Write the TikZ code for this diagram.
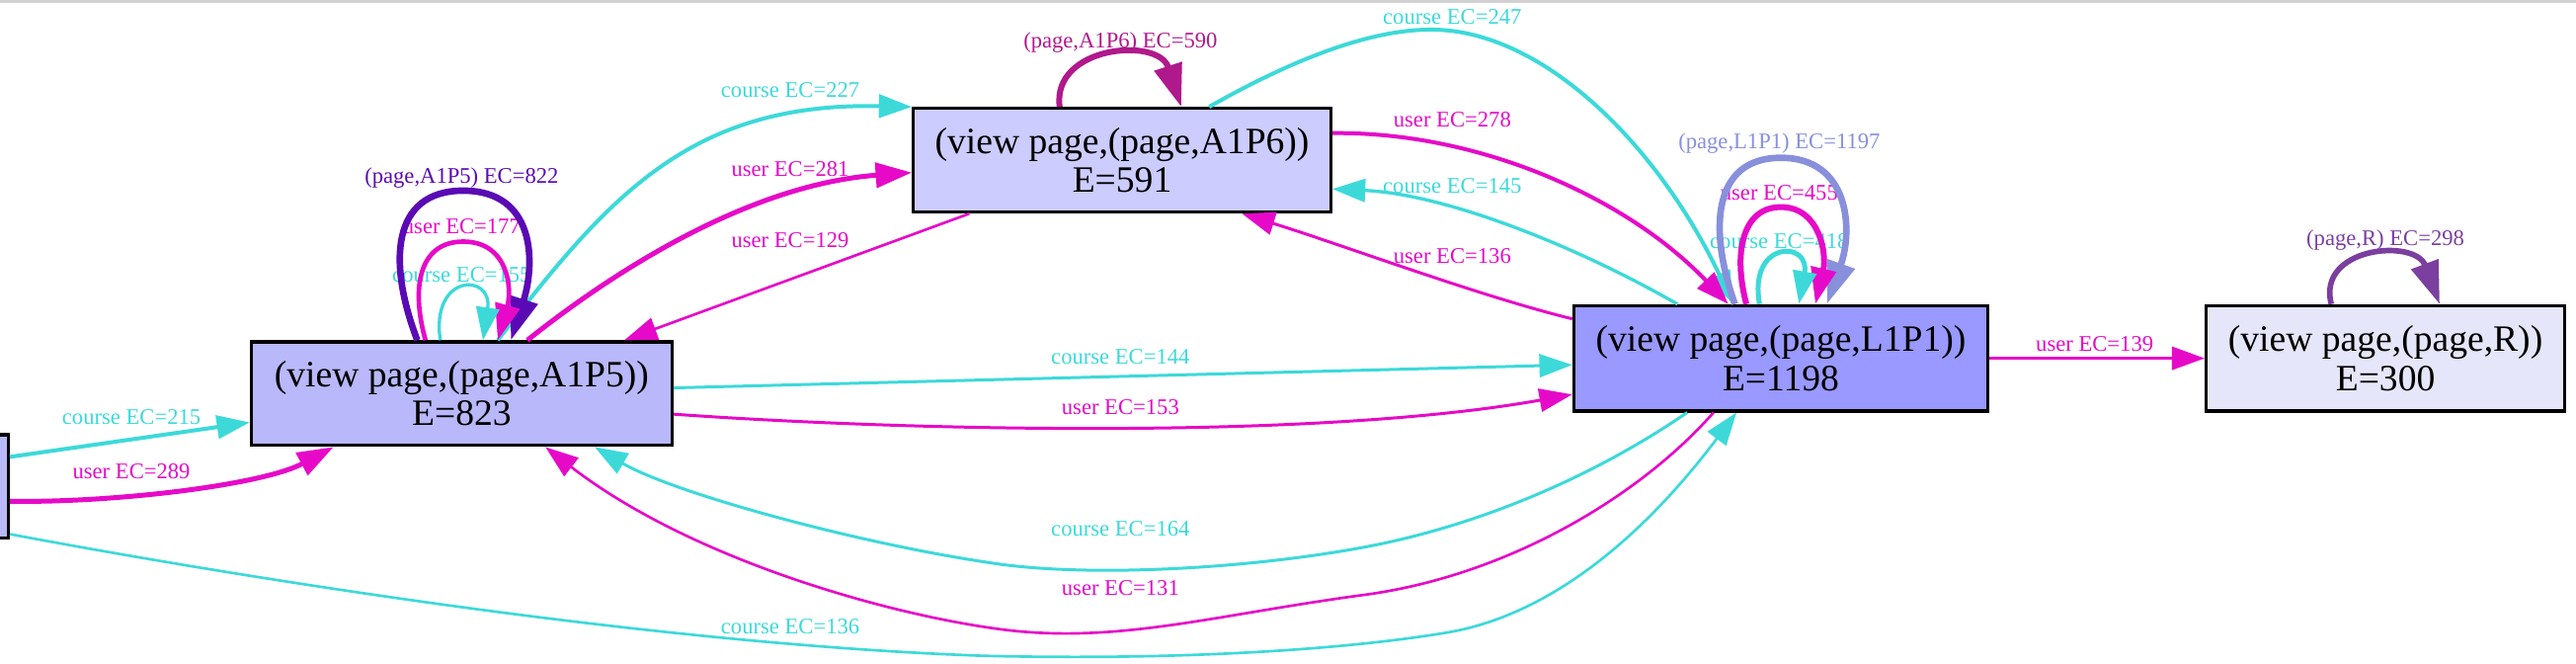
\documentclass[tikz,border=0pt]{standalone}
\usepackage{fontspec}
\setmainfont{Liberation Serif}
\usetikzlibrary{arrows.meta,calc}
\definecolor{ccourse}{HTML}{3DD9D9}
\definecolor{cuser}{HTML}{E60AC8}
\definecolor{cpA5}{HTML}{5A0AB4}
\definecolor{cpA6}{HTML}{B0198C}
\definecolor{cpL1}{HTML}{8890DC}
\definecolor{cpR}{HTML}{7B3F9F}
\definecolor{fA5}{HTML}{B8B8FA}
\definecolor{fA6}{HTML}{CCCCFF}
\definecolor{fL1}{HTML}{9999FF}
\definecolor{fR}{HTML}{E6E6FA}
\begin{document}
\begin{tikzpicture}[x=0.5pt,y=-0.5pt,
  state/.style={draw=black, line width=1pt, align=center, inner sep=0pt,
    font=\fontsize{11.3}{11.8}\selectfont, minimum height=31.5pt},
  elabel/.style={font=\fontsize{6.8}{7}\selectfont, inner sep=0pt},
  tipthin/.style={-{Triangle[length=10pt,width=7pt]}},
  tipmid/.style={-{Triangle[length=11pt,width=7.5pt]}},
  tipthick/.style={-{Triangle[length=13pt,width=8.5pt]}},
  course/.style={draw=ccourse, tipthin},
  user/.style={draw=cuser, tipthin},
]
\clip (0,0) rectangle (1568,404);
\draw[black!18, line width=1pt] (0,0.5) -- (1568,0.5);

% nodes
\node[state, fill=fA5, minimum width=29pt] (l0) at (-24,296) {};
\node[state, fill=fA5, minimum width=128pt] (a5) at (281,239.5) {(view page,(page,A1P5))\\E=823};
\node[state, fill=fA6, minimum width=127pt] (a6) at (683,97.5) {(view page,(page,A1P6))\\E=591};
\node[state, fill=fL1, minimum width=126pt, minimum height=32pt] (l1) at (1084,218) {(view page,(page,L1P1))\\E=1198};
\node[state, fill=fR, minimum width=109pt, minimum height=32pt] (r) at (1452,218) {(view page,(page,R))\\E=300};

% labels
\node[elabel, text=ccourse] (t1) at (80,253.5) {course EC=215};
\node[elabel, text=cuser] (t2) at (80,287) {user EC=289};
\node[elabel, text=ccourse] (t3) at (481,381) {course EC=136};
\node[elabel, text=ccourse] (t4) at (481,55) {course EC=227};
\node[elabel, text=cuser] (t5) at (481,103) {user EC=281};
\node[elabel, text=cuser] (t6) at (481,146) {user EC=129};
\node[elabel, text=cpA6] (t7) at (682,26) {(page,A1P6) EC=590};
\node[elabel, text=ccourse] (t8) at (884,10) {course EC=247};
\node[elabel, text=cuser] (t9) at (884,73) {user EC=278};
\node[elabel, text=ccourse] (t10) at (884,113) {course EC=145};
\node[elabel, text=cuser] (t11) at (884,156) {user EC=136};
\node[elabel, text=ccourse] (t12) at (682,217) {course EC=144};
\node[elabel, text=cuser] (t13) at (682,248) {user EC=153};
\node[elabel, text=ccourse] (t14) at (682,322) {course EC=164};
\node[elabel, text=cuser] (t15) at (682,358) {user EC=131};
\node[elabel, text=cuser] (t16) at (1275,209) {user EC=139};
\node[elabel, text=cpR] (t17) at (1452,146) {(page,R) EC=298};
\node[elabel, text=cpA5] (t18) at (281,108) {(page,A1P5) EC=822};
\node[elabel, text=cuser] (t19) at (281,138) {user EC=177};
\node[elabel, text=ccourse] (t20) at (281,167) {course EC=155};
\node[elabel, text=cpL1] (t21) at (1083,87) {(page,L1P1) EC=1197};
\node[elabel, text=cuser] (t22) at (1083,117) {user EC=455};
\node[elabel, text=ccourse] (t23) at (1083,147) {course EC=418};

% edges
\draw[course, line width=1.2pt] (l0.east |- 0,278) -- (a5.west |- 0,257);
\draw[user, tipmid, line width=1.5pt] (l0.east |- 0,305) .. controls (70,306) and (160,295) .. (a5.south -| 203,0);
\draw[course, line width=0.8pt] (l0.east |- 0,325) .. controls (150,352) and (400,392) .. (598,399)
   .. controls (720,402) and (820,395) .. (880,385) .. controls (960,372) and (1020,300) .. (l1.south -| 1057,0);
\draw[course, line width=1.2pt] (a5.north -| 303,0) .. controls (370,120) and (420,62) .. (a6.north west);
\draw[user, tipmid, line width=1.5pt] (a5.north -| 321,0) .. controls (380,160) and (460,112) .. (a6.west |- 0,105);
\draw[user, line width=0.8pt] (a6.south -| 590,0) -- (a5.north -| 380,0);
\draw[draw=cpA6, tipthick, line width=1.8pt] (a6.north -| 645,0) .. controls (640,28) and (705,22) .. (a6.north -| 719,0);
\draw[course, line width=1.2pt] (a6.north -| 736,0) .. controls (780,40) and (830,18) .. (871,18)
   .. controls (940,18) and (1010,90) .. (l1.north -| 1055,0);
\draw[user, line width=1.2pt] (a6.east |- 0,81) .. controls (900,80) and (990,120) .. (l1.north -| 1052,0);
\draw[course, line width=1pt] (l1.north -| 1021,0) .. controls (960,150) and (880,118) .. (a6.east |- 0,115);
\draw[user, line width=0.9pt] (l1.west |- 0,194) .. controls (900,180) and (820,150) .. (a6.south -| 756,0);
\draw[course, line width=0.9pt] (a5.east |- 0,236) -- (l1.west |- 0,222);
\draw[user, line width=0.9pt] (a5.east |- 0,252) .. controls (550,262) and (800,268) .. (l1.west |- 0,240);
\draw[course, line width=0.9pt] (l1.south -| 1027,0) .. controls (970,290) and (900,320) .. (830,333)
   .. controls (760,346) and (660,352) .. (600,342) .. controls (520,330) and (410,300) .. (a5.south -| 362,0);
\draw[user, line width=0.8pt] (l1.south -| 1043,0) .. controls (1000,300) and (920,350) .. (830,362)
   .. controls (740,374) and (680,392) .. (610,383) .. controls (540,374) and (420,340) .. (a5.south -| 332,0);
\draw[user, line width=0.9pt] (l1.east) -- (r.west);
\draw[draw=cpR, tipthick, line width=1.7pt] (r.north -| 1419,0) .. controls (1410,150) and (1470,145) .. (r.north -| 1485,0);

% A1P5 loops
\draw[draw=cpA5, tipthick, line width=2pt] (a5.north -| 254,0) .. controls (236,160) and (238,116) .. (282,116)
   .. controls (326,116) and (326,160) .. (a5.north -| 311,0);
\draw[user, tipmid, line width=1.4pt] (a5.north -| 259,0) .. controls (250,175) and (255,147) .. (282,147)
   .. controls (309,147) and (312,175) .. (a5.north -| 303,0);
\draw[course, line width=1pt] (a5.north -| 268,0) .. controls (262,166) and (300,166) .. (a5.north -| 294,0);

% L1P1 loops
\draw[draw=cpL1, tipthick, line width=2pt] (l1.north -| 1056,0) .. controls (1040,140) and (1042,96) .. (1084,96)
   .. controls (1126,96) and (1128,140) .. (l1.north -| 1112,0);
\draw[user, tipmid, line width=1.8pt] (l1.north -| 1063,0) .. controls (1055,155) and (1060,126) .. (1084,126)
   .. controls (1108,126) and (1112,155) .. (l1.north -| 1105,0);
\draw[course, line width=1.5pt] (l1.north -| 1071,0) .. controls (1064,146) and (1102,146) .. (l1.north -| 1095,0);
\end{tikzpicture}
\end{document}
